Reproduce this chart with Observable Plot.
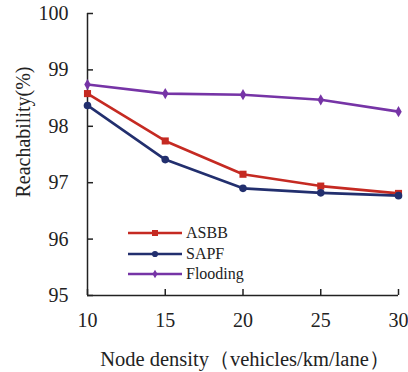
<!DOCTYPE html>
<html><head><meta charset="utf-8">
<script src="https://cdn.jsdelivr.net/npm/d3@7"></script>
<script src="https://cdn.jsdelivr.net/npm/@observablehq/plot@0.6"></script>
<style>
body{margin:0;background:#fff;font-family:'Liberation Serif',serif;}
#wrap{position:relative;width:408px;height:372px;}
#legend{position:absolute;left:128px;top:222.5px;font-size:16px;color:#222;font-family:'Liberation Serif',serif;}
#legend .row{display:flex;align-items:center;height:20.7px;}
#legend svg{margin-right:4px;}
</style>
</head><body>
<div id="wrap"><div id="legend"></div></div>
<script>
const densities = [10, 15, 20, 25, 30];
const asbb = [98.58, 97.74, 97.15, 96.94, 96.81];
const sapf = [98.37, 97.41, 96.90, 96.82, 96.77];
const flooding = [98.74, 98.58, 98.56, 98.47, 98.26];
const seriesNames = ["ASBB", "SAPF", "Flooding"];
const seriesColors = ["#c52a22", "#222f6e", "#7634a6"];
const seriesSymbols = ["square", "circle", "diamond"];
const yTicks = [95, 96, 97, 98, 99, 100];
const xTicks = [10, 15, 20, 25, 30];

const valuesBySeries = [asbb, sapf, flooding];
const data = [];
seriesNames.forEach((s, i) => densities.forEach((d, j) => data.push({series: s, x: d, y: valuesBySeries[i][j]})));

const font = "Liberation Serif";

const chart = Plot.plot({
  width: 408, height: 372,
  marginLeft: 87, marginRight: 10, marginTop: 13, marginBottom: 77,
  style: {fontFamily: font, fontSize: "20px", color: "#222", background: "white"},
  x: {domain: [10, 30], ticks: xTicks, label: null},
  y: {domain: [95, 100], ticks: yTicks, label: null},
  color: {domain: seriesNames, range: seriesColors},
  symbol: {domain: seriesNames, range: seriesSymbols},
  marks: [
    Plot.axisX({ticks: xTicks, tickFormat: d3.format("d"), tickSize: -6, tickPadding: 23, fontSize: 20, stroke: "#222", strokeWidth: 1.5}),
    Plot.axisY({ticks: yTicks, tickFormat: d3.format("d"), tickSize: -6, tickPadding: 25, fontSize: 20, stroke: "#222", strokeWidth: 1.5}),
    Plot.ruleX([10], {stroke: "#222", strokeWidth: 1.5}),
    Plot.ruleY([95], {stroke: "#222", strokeWidth: 1.5}),
    Plot.line(data, {x: "x", y: "y", stroke: "series", strokeWidth: 2.6}),
    Plot.dot(data.filter(d => d.series === "ASBB"), {x: "x", y: "y", fill: "series", symbol: "series", r: 4}),
    Plot.dot(data.filter(d => d.series === "SAPF"), {x: "x", y: "y", fill: "series", symbol: "series", r: 3.8}),
    Plot.dot(data.filter(d => d.series === "Flooding"), {x: "x", y: "y", fill: "series", symbol: "series", r: 3.4}),
    Plot.text(["Node density（vehicles/km/lane）"], {frameAnchor: "bottom", lineAnchor: "middle", textAnchor: "middle", dy: 64, dx: 2, fontSize: 20.5, fill: "#222"}),
    Plot.text(["Reachability(%)"], {frameAnchor: "left", rotate: -90, textAnchor: "middle", lineAnchor: "middle", dx: -64, dy: -22.5, fontSize: 20, fill: "#222"})
  ]
});
d3.select(chart).selectAll("text").attr("font-family", font).style("font-family", "'Liberation Serif', serif");
chart.style.fontFamily = "'Liberation Serif', serif";
document.getElementById("wrap").prepend(chart);

const legend = document.getElementById("legend");
seriesNames.forEach((s, i) => {
  const row = document.createElement("div");
  row.className = "row";
  const sym = d3.symbol(i === 0 ? d3.symbolSquare : i === 1 ? d3.symbolCircle : d3.symbolDiamond, i === 0 ? 36 : i === 1 ? 30 : 22)();
  row.innerHTML = `<svg width="54" height="12"><line x1="0" x2="54" y1="6" y2="6" stroke="${seriesColors[i]}" stroke-width="2.5"/><path d="${sym}" transform="translate(27,6)" fill="${seriesColors[i]}"/></svg><span>${s}</span>`;
  legend.appendChild(row);
});
</script>
</body></html>
